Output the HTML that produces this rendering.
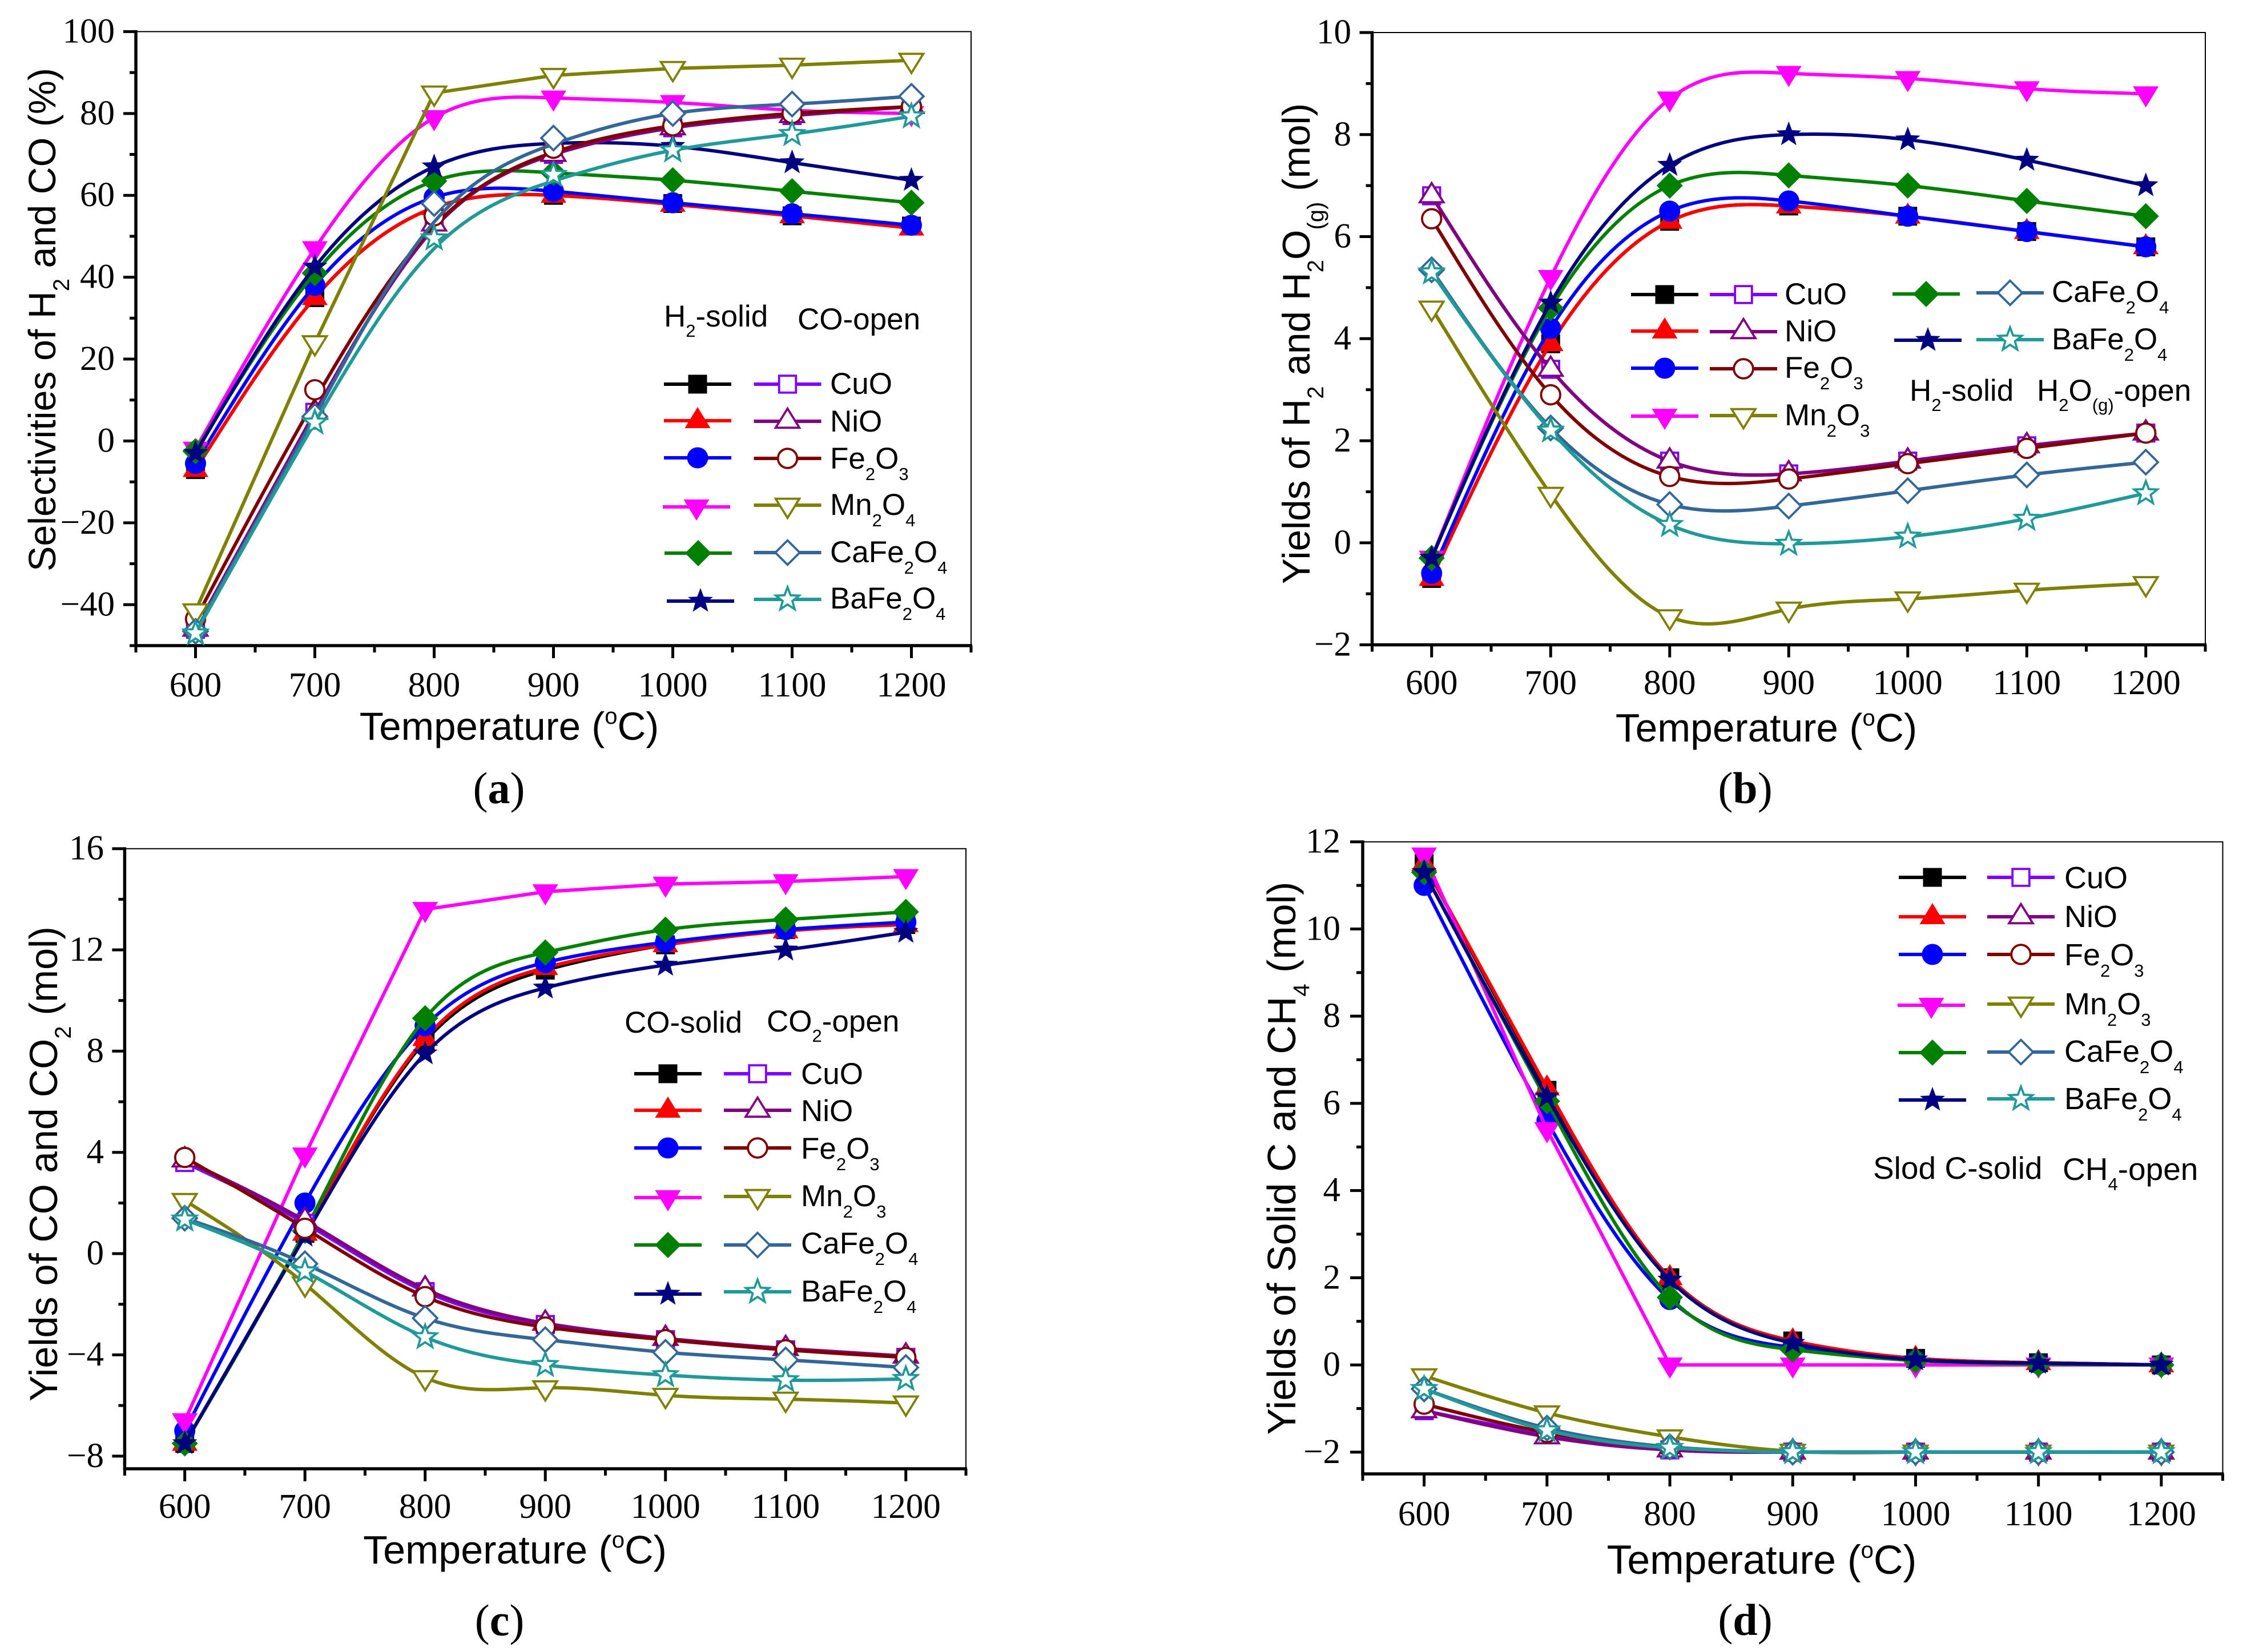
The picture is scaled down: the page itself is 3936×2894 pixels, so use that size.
<!DOCTYPE html>
<html lang="en">
<head>
<meta charset="utf-8">
<title>Selectivities and yields versus temperature</title>
<style>
html,body{margin:0;padding:0;background:#fff;}
svg{display:block;}
.tick{font-family:"Liberation Serif",serif;font-size:61px;fill:#000;}
.title{font-family:"Liberation Sans",sans-serif;font-size:66px;fill:#000;}
.leg{font-family:"Liberation Sans",sans-serif;font-size:53px;fill:#000;}
.pd .leg{font-size:54px;}
.plabel{font-family:"Liberation Serif",serif;font-size:78px;fill:#000;}
</style>
</head>
<body>
<svg id="figure" xmlns="http://www.w3.org/2000/svg" width="3936" height="2894" viewBox="0 0 3936 2894">
<rect x="0" y="0" width="3936" height="2894" fill="#fff"/>
<g id="plots"></g>

<g>
<text class="title" style="font-size:66.4px" text-anchor="middle" transform="translate(97 560) rotate(-90)">Selectivities of H<tspan dy="24" font-size="40">2</tspan><tspan dy="-24"> and CO (%)</tspan></text>
<text class="title" style="font-size:69px" text-anchor="middle" x="892" y="1296">Temperature (<tspan dy="-28" font-size="40">o</tspan><tspan dy="28">C)</tspan></text>
<text class="plabel" text-anchor="middle" x="874" y="1407">(<tspan font-weight="bold">a</tspan>)</text>
<text class="leg" x="1163" y="572">H<tspan dy="18" font-size="31">2</tspan><tspan dy="-18">-solid</tspan></text>
<text class="leg" x="1397" y="577">CO-open</text>
<text class="leg" x="1454" y="690">CuO</text>
<text class="leg" x="1454" y="756">NiO</text>
<text class="leg" x="1454" y="821">Fe<tspan dy="20" font-size="31">2</tspan><tspan dy="-20">O</tspan><tspan dy="20" font-size="31">3</tspan></text>
<text class="leg" x="1454" y="902">Mn<tspan dy="20" font-size="31">2</tspan><tspan dy="-20">O</tspan><tspan dy="20" font-size="31">4</tspan></text>
<text class="leg" x="1454" y="985">CaFe<tspan dy="20" font-size="31">2</tspan><tspan dy="-20">O</tspan><tspan dy="20" font-size="31">4</tspan></text>
<text class="leg" x="1454" y="1066">BaFe<tspan dy="20" font-size="31">2</tspan><tspan dy="-20">O</tspan><tspan dy="20" font-size="31">4</tspan></text>
</g>

<g>
<text class="title" style="font-size:67.6px" text-anchor="middle" transform="translate(2294 602) rotate(-90)">Yields of H<tspan dy="24" font-size="40">2</tspan><tspan dy="-24"> and H</tspan><tspan dy="24" font-size="40">2</tspan><tspan dy="-24">O</tspan><tspan dy="24" font-size="40">(g)</tspan><tspan dy="-24"> (mol)</tspan></text>
<text class="title" style="font-size:69.5px" text-anchor="middle" x="3094" y="1299">Temperature (<tspan dy="-28" font-size="40">o</tspan><tspan dy="28">C)</tspan></text>
<text class="plabel" text-anchor="middle" x="3057" y="1407">(<tspan font-weight="bold">b</tspan>)</text>
<text class="leg" x="3345" y="702">H<tspan dy="18" font-size="31">2</tspan><tspan dy="-18">-solid</tspan></text>
<text class="leg" x="3568" y="702">H<tspan dy="18" font-size="31">2</tspan><tspan dy="-18">O</tspan><tspan dy="18" font-size="31">(g)</tspan><tspan dy="-18">-open</tspan></text>
<text class="leg" x="3126" y="533">CuO</text>
<text class="leg" x="3126" y="598">NiO</text>
<text class="leg" x="3126" y="662">Fe<tspan dy="20" font-size="31">2</tspan><tspan dy="-20">O</tspan><tspan dy="20" font-size="31">3</tspan></text>
<text class="leg" x="3126" y="745">Mn<tspan dy="20" font-size="31">2</tspan><tspan dy="-20">O</tspan><tspan dy="20" font-size="31">3</tspan></text>
<text class="leg" x="3594" y="529">CaFe<tspan dy="20" font-size="31">2</tspan><tspan dy="-20">O</tspan><tspan dy="20" font-size="31">4</tspan></text>
<text class="leg" x="3594" y="612">BaFe<tspan dy="20" font-size="31">2</tspan><tspan dy="-20">O</tspan><tspan dy="20" font-size="31">4</tspan></text>
</g>

<g>
<text class="title" style="font-size:68.3px" text-anchor="middle" transform="translate(100 2039) rotate(-90)">Yields of CO and CO<tspan dy="24" font-size="40">2</tspan><tspan dy="-24"> (mol)</tspan></text>
<text class="title" style="font-size:70px" text-anchor="middle" x="902" y="2739">Temperature (<tspan dy="-28" font-size="40">o</tspan><tspan dy="28">C)</tspan></text>
<text class="plabel" text-anchor="middle" x="875" y="2865">(<tspan font-weight="bold">c</tspan>)</text>
<text class="leg" x="1094" y="1809">CO-solid</text>
<text class="leg" x="1343" y="1807">CO<tspan dy="18" font-size="31">2</tspan><tspan dy="-18">-open</tspan></text>
<text class="leg" x="1403" y="1899">CuO</text>
<text class="leg" x="1403" y="1964">NiO</text>
<text class="leg" x="1403" y="2030">Fe<tspan dy="20" font-size="31">2</tspan><tspan dy="-20">O</tspan><tspan dy="20" font-size="31">3</tspan></text>
<text class="leg" x="1403" y="2113">Mn<tspan dy="20" font-size="31">2</tspan><tspan dy="-20">O</tspan><tspan dy="20" font-size="31">3</tspan></text>
<text class="leg" x="1403" y="2196">CaFe<tspan dy="20" font-size="31">2</tspan><tspan dy="-20">O</tspan><tspan dy="20" font-size="31">4</tspan></text>
<text class="leg" x="1403" y="2280">BaFe<tspan dy="20" font-size="31">2</tspan><tspan dy="-20">O</tspan><tspan dy="20" font-size="31">4</tspan></text>
</g>

<g class="pd">
<text class="title" style="font-size:70px" text-anchor="middle" transform="translate(2269 2029) rotate(-90)">Yields of Solid C and CH<tspan dy="24" font-size="40">4</tspan><tspan dy="-24"> (mol)</tspan></text>
<text class="title" style="font-size:71.5px" text-anchor="middle" x="3086" y="2757">Temperature (<tspan dy="-28" font-size="40">o</tspan><tspan dy="28">C)</tspan></text>
<text class="plabel" text-anchor="middle" x="3057" y="2864">(<tspan font-weight="bold">d</tspan>)</text>
<text class="leg" style="font-size:55px" x="3281" y="2065">Slod C-solid</text>
<text class="leg" style="font-size:55px" x="3613" y="2067">CH<tspan dy="18" font-size="31">4</tspan><tspan dy="-18">-open</tspan></text>
<text class="leg" x="3616" y="1556">CuO</text>
<text class="leg" x="3616" y="1624">NiO</text>
<text class="leg" x="3616" y="1691">Fe<tspan dy="20" font-size="31">2</tspan><tspan dy="-20">O</tspan><tspan dy="20" font-size="31">3</tspan></text>
<text class="leg" x="3616" y="1777">Mn<tspan dy="20" font-size="31">2</tspan><tspan dy="-20">O</tspan><tspan dy="20" font-size="31">3</tspan></text>
<text class="leg" x="3616" y="1860">CaFe<tspan dy="20" font-size="31">2</tspan><tspan dy="-20">O</tspan><tspan dy="20" font-size="31">4</tspan></text>
<text class="leg" x="3616" y="1943">BaFe<tspan dy="20" font-size="31">2</tspan><tspan dy="-20">O</tspan><tspan dy="20" font-size="31">4</tspan></text>
</g>
</svg>

<script>
// Shared category axis
const temperatures = [600, 700, 800, 900, 1000, 1100, 1200];
const xTickLabels = [600, 700, 800, 900, 1000, 1100, 1200];

// Panel (a) selectivities, percent
const aCuOSolid = [-7, 35, 57, 60, 58, 55, 52.5];
const aNiOSolid = [-7, 35, 57, 60, 57.8, 55, 52];
const aFeSolid = [-5.5, 38, 59.5, 61, 58.2, 55.5, 52.7];
const aMnSolid = [-2, 47, 79, 83.8, 82.7, 80.8, 80];
const aCaSolid = [-2.5, 41, 63.5, 65.5, 63.7, 61, 58.2];
const aBaSolid = [-3, 42.5, 67, 72.7, 72, 68, 63.7];
const aCuOOpen = [-46, 7, 54, 70, 76.5, 79.5, 81.7];
const aNiOOpen = [-46, 7, 53, 70, 76.5, 79.5, 81.7];
const aFeOpen = [-43.5, 12.5, 55, 71.5, 77, 80, 81.7];
const aMnOpen = [-41.5, 24, 85, 89.3, 91, 91.8, 93];
const aCaOpen = [-46.5, 6, 58, 74, 80, 82.3, 84.2];
const aBaOpen = [-47, 4.5, 49.5, 65, 71, 75, 79.3];
const aYTicks = [100, 80, 60, 40, 20, 0, -20, -40];
// In panel (a) the fitted curves of some open series run slightly off their markers
const aCuOOpenCurveGap = [0, 0, -2, 0, 0, 0, 0];
const aNiOOpenCurveGap = [0, 0, -1, 0, 0, 0, 0];
const aFeOpenCurveGap = [0, -2.5, -2.5, -1, 0, 0, 0];
const aCaOpenCurveGap = [0, 0, -4.5, -1.5, 0, 0, 0];
const aBaOpenCurveGap = [0, 0, -2.5, -1.5, 0, 0, 0];

// Panel (b) yields of H2 and H2O(g), mol
const bCuOSolid = [-0.7, 3.9, 6.3, 6.6, 6.4, 6.1, 5.8];
const bNiOSolid = [-0.7, 3.9, 6.3, 6.6, 6.4, 6.1, 5.8];
const bFeSolid = [-0.6, 4.2, 6.5, 6.7, 6.4, 6.1, 5.8];
const bMnSolid = [-0.3, 5.2, 8.7, 9.2, 9.1, 8.9, 8.8];
const bCaSolid = [-0.3, 4.6, 7.0, 7.2, 7.0, 6.7, 6.4];
const bBaSolid = [-0.3, 4.7, 7.4, 8.0, 7.9, 7.5, 7.0];
const bCuOOpen = [6.8, 3.4, 1.6, 1.35, 1.6, 1.9, 2.15];
const bNiOOpen = [6.8, 3.4, 1.6, 1.35, 1.6, 1.9, 2.15];
const bFeOpen = [6.35, 2.9, 1.3, 1.25, 1.55, 1.85, 2.15];
const bMnOpen = [4.6, 0.95, -1.45, -1.3, -1.1, -0.93, -0.8];
const bCaOpen = [5.35, 2.25, 0.75, 0.72, 1.02, 1.33, 1.58];
const bBaOpen = [5.3, 2.2, 0.35, -0.02, 0.12, 0.47, 0.97];
const bYTicks = [10, 8, 6, 4, 2, 0, -2];

// Panel (c) yields of CO and CO2, mol
const cCuOSolid = [-7.5, 0.8, 8.4, 11.2, 12.2, 12.8, 13.0];
const cNiOSolid = [-7.5, 0.8, 8.5, 11.3, 12.2, 12.75, 13.0];
const cFeSolid = [-7, 2.0, 9.0, 11.5, 12.3, 12.8, 13.1];
const cMnSolid = [-6.6, 3.9, 13.6, 14.3, 14.6, 14.7, 14.9];
const cCaSolid = [-7.5, 0.9, 9.3, 11.9, 12.8, 13.2, 13.5];
const cBaSolid = [-7.5, 0.7, 7.9, 10.5, 11.4, 12.0, 12.7];
const cCuOOpen = [3.6, 1.2, -1.5, -2.8, -3.4, -3.8, -4.1];
const cNiOOpen = [3.7, 1.3, -1.4, -2.75, -3.35, -3.75, -4.05];
const cFeOpen = [3.8, 1.0, -1.7, -2.9, -3.4, -3.8, -4.1];
const cMnOpen = [2.1, -1.2, -4.9, -5.3, -5.6, -5.75, -5.9];
const cCaOpen = [1.4, -0.4, -2.55, -3.4, -3.9, -4.2, -4.5];
const cBaOpen = [1.35, -0.7, -3.3, -4.4, -4.8, -5.0, -4.95];
const cYTicks = [16, 12, 8, 4, 0, -4, -8];

// Panel (d) yields of solid C and CH4, mol
const dCuOSolid = [11.5, 6.3, 2.0, 0.55, 0.15, 0.05, 0];
const dNiOSolid = [11.5, 6.35, 2.0, 0.55, 0.15, 0.05, 0];
const dFeSolid = [11, 5.6, 1.5, 0.4, 0.1, 0.03, 0];
const dMnSolid = [11.7, 5.4, 0, 0, 0, 0, 0];
const dCaSolid = [11.3, 6.05, 1.55, 0.35, 0.1, 0.02, 0];
const dBaSolid = [11.3, 6.15, 1.95, 0.5, 0.12, 0.04, 0];
const dCuOOpen = [-1.05, -1.6, -1.95, -2, -2, -2, -2];
const dNiOOpen = [-1.05, -1.65, -1.95, -2, -2, -2, -2];
const dFeOpen = [-0.9, -1.55, -1.9, -2, -2, -2, -2];
const dMnOpen = [-0.25, -1.1, -1.65, -1.98, -2, -2, -2];
const dCaOpen = [-0.55, -1.45, -1.88, -2, -2, -2, -2];
const dBaOpen = [-0.55, -1.5, -1.9, -2, -2, -2, -2];
const dYTicks = [12, 10, 8, 6, 4, 2, 0, -2];

const SVGNS = 'http://www.w3.org/2000/svg';
const materials = ['cuo', 'nio', 'fe2o3', 'mn-oxide', 'cafe2o4', 'bafe2o4'];
const shapes = ['square', 'up', 'circle', 'down', 'diamond', 'star'];
const solidColors = ['#000000', '#ff0000', '#0000ff', '#ff00ff', '#008000', '#000080'];
const openColors = ['#8000ff', '#800080', '#800000', '#808000', '#336699', '#209999'];

const panels = [
  { id: 'a', left: 238, right: 1701, top: 55.4, bottom: 1131, yMin: -50, yMax: 100, yMinorStep: 10,
    yTicks: aYTicks, yLabelX: 201, xLabelY: 1220,
    solid: [aCuOSolid, aNiOSolid, aFeSolid, aMnSolid, aCaSolid, aBaSolid],
    open: [aCuOOpen, aNiOOpen, aFeOpen, aMnOpen, aCaOpen, aBaOpen],
    openGaps: [aCuOOpenCurveGap, aNiOOpenCurveGap, aFeOpenCurveGap, null, aCaOpenCurveGap, aBaOpenCurveGap],
    straightSolid: [], straightOpen: [3],
    legend: [[1222, 1379.5, 673, 673], [1222, 1379.5, 737, 738], [1222, 1379.5, 802, 803], [1220, 1379.5, 888, 885], [1223, 1379.5, 969, 968], [1227, 1379.5, 1053, 1050]] },
  { id: 'b', left: 2403.5, right: 3863, top: 57, bottom: 1129.6, yMin: -2, yMax: 10, yMinorStep: 1,
    yTicks: bYTicks, yLabelX: 2367, xLabelY: 1216,
    solid: [bCuOSolid, bNiOSolid, bFeSolid, bMnSolid, bCaSolid, bBaSolid],
    open: [bCuOOpen, bNiOOpen, bFeOpen, bMnOpen, bCaOpen, bBaOpen],
    openGaps: [],
    straightSolid: [], straightOpen: [],
    legend: [[2916, 3054, 516, 516], [2916, 3054, 580, 581], [2916, 3054, 645, 646], [2916, 3054, 729, 728], [3374, 3521, 515, 513], [3377, 3521, 596, 595]] },
  { id: 'c', left: 218.4, right: 1692, top: 1486.7, bottom: 2573, yMin: -8.5, yMax: 16, yMinorStep: 2,
    yTicks: cYTicks, yLabelX: 182, xLabelY: 2659,
    solid: [cCuOSolid, cNiOSolid, cFeSolid, cMnSolid, cCaSolid, cBaSolid],
    open: [cCuOOpen, cNiOOpen, cFeOpen, cMnOpen, cCaOpen, cBaOpen],
    openGaps: [],
    straightSolid: [3], straightOpen: [],
    legend: [[1170, 1327, 1881, 1881], [1170, 1327, 1945, 1945], [1170, 1327, 2011, 2011], [1170, 1327, 2098, 2096], [1170, 1327, 2181, 2181], [1170, 1327, 2267, 2263]] },
  { id: 'd', left: 2387, right: 3893.5, top: 1474.7, bottom: 2582, yMin: -2.5, yMax: 12, yMinorStep: 1,
    yTicks: dYTicks, yLabelX: 2348, xLabelY: 2672,
    solid: [dCuOSolid, dNiOSolid, dFeSolid, dMnSolid, dCaSolid, dBaSolid],
    open: [dCuOOpen, dNiOOpen, dFeOpen, dMnOpen, dCaOpen, dBaOpen],
    openGaps: [],
    straightSolid: [3], straightOpen: [],
    legend: [[3385, 3540, 1537, 1537], [3385, 3540, 1606, 1606], [3385, 3540, 1672, 1672], [3383, 3540, 1761, 1759], [3385, 3540, 1844, 1843], [3385, 3540, 1927, 1925]] }
];

function make(tag, attrs, parent) {
  const el = document.createElementNS(SVGNS, tag);
  for (const k in attrs) el.setAttribute(k, attrs[k]);
  parent.appendChild(el);
  return el;
}

// Natural cubic spline through (xs, ys), expressed as pixel-space bezier segments.
function splinePath(xs, ys, sx, sy) {
  const n = xs.length;
  const m = new Array(n).fill(0);
  const c = new Array(n).fill(0);
  const d = new Array(n).fill(0);
  for (let i = 1; i < n - 1; i++) {
    const h0 = xs[i] - xs[i - 1];
    const h1 = xs[i + 1] - xs[i];
    const rhs = 6 * ((ys[i + 1] - ys[i]) / h1 - (ys[i] - ys[i - 1]) / h0);
    const w = 2 * (h0 + h1) - h0 * c[i - 1];
    c[i] = h1 / w;
    d[i] = (rhs - h0 * d[i - 1]) / w;
  }
  for (let i = n - 2; i > 0; i--) m[i] = d[i] - c[i] * m[i + 1];
  let p = 'M' + sx(xs[0]).toFixed(1) + ' ' + sy(ys[0]).toFixed(1);
  for (let i = 0; i < n - 1; i++) {
    const h = xs[i + 1] - xs[i];
    const d0 = (ys[i + 1] - ys[i]) / h - h * (2 * m[i] + m[i + 1]) / 6;
    const d1 = (ys[i + 1] - ys[i]) / h + h * (m[i] + 2 * m[i + 1]) / 6;
    p += 'C' + sx(xs[i] + h / 3).toFixed(1) + ' ' + sy(ys[i] + d0 * h / 3).toFixed(1) +
         ' ' + sx(xs[i + 1] - h / 3).toFixed(1) + ' ' + sy(ys[i + 1] - d1 * h / 3).toFixed(1) +
         ' ' + sx(xs[i + 1]).toFixed(1) + ' ' + sy(ys[i + 1]).toFixed(1);
  }
  return p;
}

function straightPath(xs, ys, sx, sy) {
  return xs.map((x, i) => (i ? 'L' : 'M') + sx(x).toFixed(1) + ' ' + sy(ys[i]).toFixed(1)).join('');
}

function starPoints(cx, cy, R) {
  const pts = [];
  const r = R * 0.42;
  for (let i = 0; i < 10; i++) {
    const a = -Math.PI / 2 + i * Math.PI / 5;
    const q = i % 2 ? r : R;
    pts.push((cx + q * Math.cos(a)).toFixed(1) + ',' + (cy + q * Math.sin(a)).toFixed(1));
  }
  return pts.join(' ');
}

function drawMarker(parent, shape, cx, cy, filled, color, name) {
  const inset = filled ? 0 : 1.7;
  const style = filled
    ? { fill: color, stroke: 'none' }
    : { fill: '#ffffff', stroke: color, 'stroke-width': 3.8, 'stroke-linejoin': 'miter' };
  let el;
  if (shape === 'square') {
    const h = 16.5 - inset;
    el = make('rect', Object.assign({ x: cx - h, y: cy - h, width: 2 * h, height: 2 * h }, style), parent);
  } else if (shape === 'circle') {
    el = make('circle', Object.assign({ cx: cx, cy: cy, r: 18.5 - inset }, style), parent);
  } else if (shape === 'up') {
    const pts = [cx + ',' + (cy - 24 + inset), (cx + 22.5 - inset) + ',' + (cy + 13 - inset), (cx - 22.5 + inset) + ',' + (cy + 13 - inset)];
    el = make('polygon', Object.assign({ points: pts.join(' ') }, style), parent);
  } else if (shape === 'down') {
    const pts = [cx + ',' + (cy + 24 - inset), (cx + 22.5 - inset) + ',' + (cy - 13 + inset), (cx - 22.5 + inset) + ',' + (cy - 13 + inset)];
    el = make('polygon', Object.assign({ points: pts.join(' ') }, style), parent);
  } else if (shape === 'diamond') {
    const pts = [cx + ',' + (cy - 23 + inset), (cx + 23 - inset) + ',' + cy, cx + ',' + (cy + 23 - inset), (cx - 23 + inset) + ',' + cy];
    el = make('polygon', Object.assign({ points: pts.join(' ') }, style), parent);
  } else {
    el = make('polygon', Object.assign({ points: starPoints(cx, cy, 23 - inset) }, style), parent);
  }
  
  
  return el;
}

function drawPanel(cfg) {
  const root = document.getElementById('plots');
  const g = make('g', {}, root);
  
  

  const sx = v => cfg.left + (v - 550) / 700 * (cfg.right - cfg.left);
  const sy = v => cfg.bottom - (v - cfg.yMin) / (cfg.yMax - cfg.yMin) * (cfg.bottom - cfg.top);

  // thin frame
  const frame = make('path', { d: 'M' + cfg.left + ' ' + cfg.top + 'H' + cfg.right + 'V' + cfg.bottom, fill: 'none', stroke: '#000', 'stroke-width': 2 }, g);
  
  

  // x ticks
  for (let v = 550; v <= 1250; v += 50) {
    const major = (v % 100) === 0;
    const t = make('line', { x1: sx(v), x2: sx(v), y1: cfg.bottom, y2: cfg.bottom + (major ? 22 : 12), stroke: '#000', 'stroke-width': 5 }, g);
    
    
  }
  xTickLabels.forEach(v => {
    const t = make('text', { class: 'tick', x: sx(v), y: cfg.xLabelY, 'text-anchor': 'middle' }, g);
    t.textContent = String(v);
    
    
  });

  // y ticks
  const steps = Math.floor((cfg.yMax - cfg.yMin) / cfg.yMinorStep);
  for (let i = 0; i <= steps; i++) {
    const v = cfg.yMax - i * cfg.yMinorStep;
    const major = cfg.yTicks.indexOf(v) >= 0;
    const t = make('line', { x1: cfg.left - (major ? 22 : 11), x2: cfg.left, y1: sy(v), y2: sy(v), stroke: '#000', 'stroke-width': 5 }, g);
    
    
  }
  cfg.yTicks.forEach(v => {
    const t = make('text', { class: 'tick', x: cfg.yLabelX, y: sy(v) + 19, 'text-anchor': 'end' }, g);
    t.textContent = String(v).replace('-', '\u2212');
    
    
  });

  // heavy left and bottom axes
  const axisY = make('line', { x1: cfg.left, x2: cfg.left, y1: cfg.top - 2.5, y2: cfg.bottom + 2.5, stroke: '#000', 'stroke-width': 5.5 }, g);
  
  
  const axisX = make('line', { x1: cfg.left, x2: cfg.right + 2, y1: cfg.bottom, y2: cfg.bottom, stroke: '#000', 'stroke-width': 5.5 }, g);
  
  

  // series
  const drawGroup = (list, colors, filled, straightList, gaps, suffix) => {
    list.forEach((ys, i) => {
      const sg = make('g', {}, g);
      
      
      const gap = gaps[i];
      const curveYs = gap ? ys.map((v, k) => v + gap[k]) : ys;
      const d = straightList.indexOf(i) >= 0 ? straightPath(temperatures, curveYs, sx, sy) : splinePath(temperatures, curveYs, sx, sy);
      const line = make('path', { d: d, fill: 'none', stroke: colors[i], 'stroke-width': 6, 'stroke-linejoin': 'round' }, sg);
      
      
      temperatures.forEach((x, k) => {
        drawMarker(sg, shapes[i], sx(x), sy(ys[k]), filled, colors[i], 'series-point');
      });
    });
  };
  drawGroup(cfg.solid, solidColors, true, cfg.straightSolid, [], 'solid');
  drawGroup(cfg.open, openColors, false, cfg.straightOpen, cfg.openGaps, 'open');

  // legend swatches
  cfg.legend.forEach((row, i) => {
    [[row[0], row[2], solidColors[i], true], [row[1], row[3], openColors[i], false]].forEach(s => {
      const lg = make('g', {}, g);
      
      
      const ln = make('line', { x1: s[0] - 59, x2: s[0] + 59, y1: s[1], y2: s[1], stroke: s[2], 'stroke-width': 6 }, lg);
      
      
      drawMarker(lg, shapes[i], s[0], s[1], s[3], s[2], 'legend-marker');
    });
  });
}

panels.forEach(drawPanel);
</script>
</body>
</html>
